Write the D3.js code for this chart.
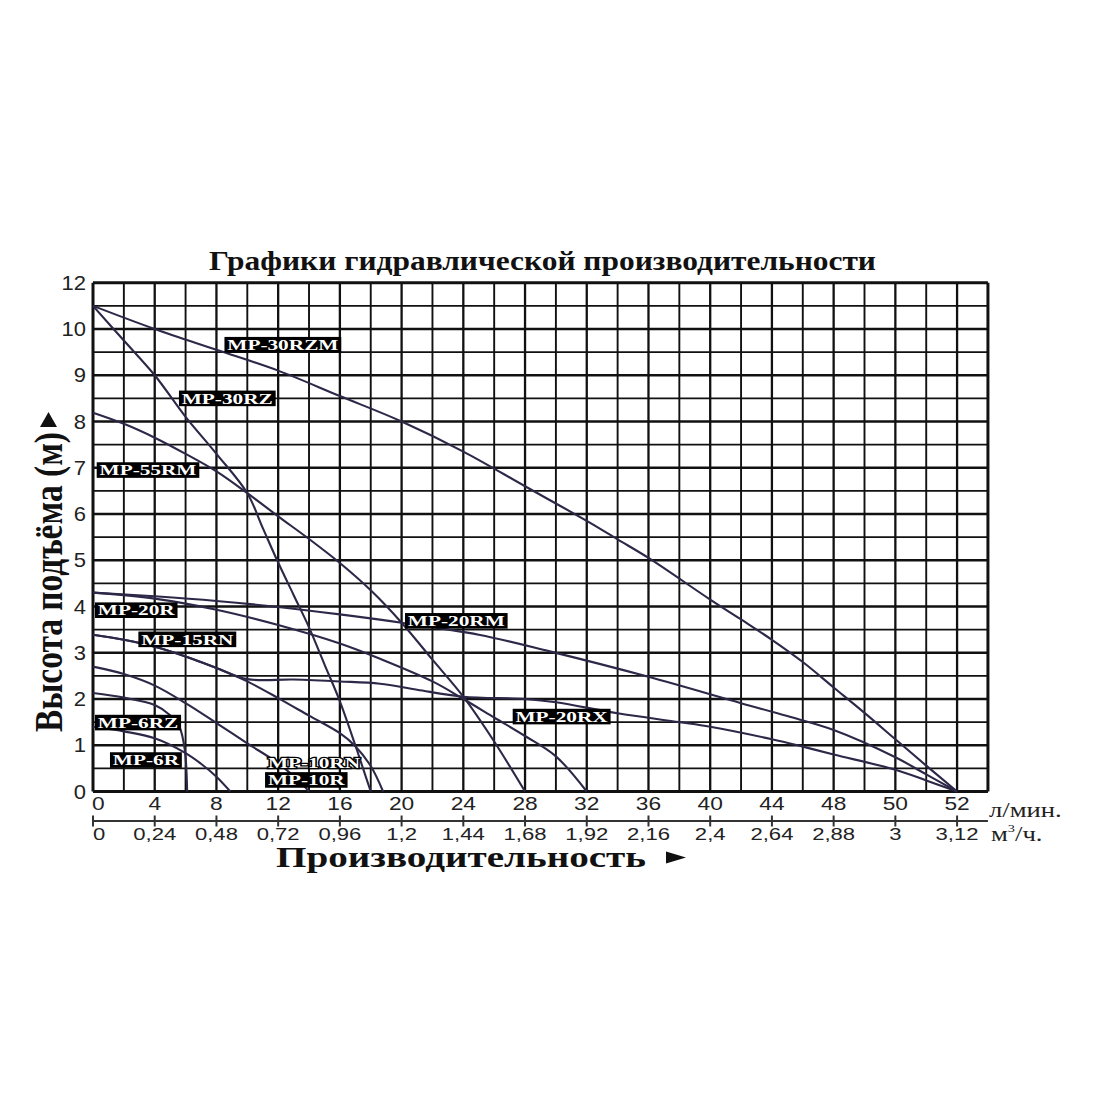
<!DOCTYPE html>
<html><head><meta charset="utf-8">
<script src="https://cdn.jsdelivr.net/npm/d3@7"></script>
<style>body{margin:0;background:#fff}svg{display:block}</style>
</head><body>
<svg id="chart" width="1100" height="1100"></svg>
<script>
// ---------- DATA ----------
const titleText = "Графики гидравлической производительности";
const yTitleText = "Высота подъёма (м)";
const xTitleText = "Производительность";

const flowTicks = [0,4,8,12,16,20,24,28,32,36,40,44,48,50,52];
const m3hTickLabels = ["0","0,24","0,48","0,72","0,96","1,2","1,44","1,68","1,92","2,16","2,4","2,64","2,88","3","3,12"];
const headTicks = [0,1,2,3,4,5,6,7,8,9,10,12];

// flow in l/min, head in m (as read against the printed axes)
const mp30rzmQ = [0,4,8,12,16,20,24,28,32,34,36,40,42,44,46,48,49,50,51,52];
const mp30rzmH = [11,10,9.55,9.1,8.55,8.0,7.35,6.6,5.85,5.45,5.05,4.15,3.72,3.28,2.8,2.25,1.7,1.13,0.56,0];

const mp30rzQ = [0,2,4,6,8,10,11,12,13,14,15,16,17,17.5,18];
const mp30rzH = [11,9.75,9.0,8.1,7.3,6.45,5.7,4.95,4.25,3.55,2.75,1.95,1.0,0.5,0];

const mp55rmQ = [0,2,4,6,8,10,12,14,16,18,20,22,24,26,28];
const mp55rmH = [8.19,7.95,7.65,7.3,6.92,6.45,5.95,5.46,4.94,4.35,3.65,2.85,2.05,1.08,0];

const mp20rmQ = [0,4,8,12,16,20,25,29.6,36,42,45,48,50,51,52];
const mp20rmH = [4.3,4.22,4.12,3.99,3.83,3.65,3.39,3.03,2.48,1.91,1.63,1.33,0.74,0.37,0];

const mp20rQ = [0,4,8,12,16,18.6,22,24,26,28,30,32];
const mp20rH = [4.3,4.17,3.93,3.6,3.2,2.87,2.38,2.0,1.6,1.2,0.76,0];

const mp15rnQ = [0,2,4,6,8,10,12,14,16,17,18,18.8];
const mp15rnH = [3.39,3.28,3.13,2.92,2.67,2.38,2.02,1.64,1.26,0.98,0.55,0];

const mp20rxQ = [0,2,4,6,8,10,13,16,18.6,21,24,28,30,34,38,40,44,46,48,50,51,52];
const mp20rxH = [3.39,3.28,3.13,2.92,2.67,2.43,2.42,2.38,2.33,2.2,2.05,2.0,1.93,1.69,1.5,1.4,1.13,0.97,0.8,0.47,0.24,0];

const mp10rQ = [0,2,4,6,8,10,12,13.5,14];
const mp10rH = [2.7,2.54,2.29,1.91,1.48,1.04,0.61,0.18,0];

const mp6rzQ = [0,2,4,5,5.6,5.95,6.1];
const mp6rzH = [2.13,2.03,1.87,1.65,1.4,0.9,0];

const mp6rQ = [0,2,4,6,7,8,8.9];
const mp6rH = [1.4,1.3,1.15,0.83,0.6,0.32,0];

const seriesNames = ["MP-30RZM","MP-30RZ","MP-55RM","MP-20RM","MP-20R","MP-15RN","MP-20RX","MP-10R","MP-6RZ","MP-6R"];
const seriesQ = [mp30rzmQ,mp30rzQ,mp55rmQ,mp20rmQ,mp20rQ,mp15rnQ,mp20rxQ,mp10rQ,mp6rzQ,mp6rQ];
const seriesH = [mp30rzmH,mp30rzH,mp55rmH,mp20rmH,mp20rH,mp15rnH,mp20rxH,mp10rH,mp6rzH,mp6rH];

// curve labels: text and anchor (left edge flow, centre head)
const labelTexts = ["MP-30RZM","MP-30RZ","MP-55RM","MP-20R","MP-15RN","MP-20RM","MP-20RX","MP-6RZ","MP-6R","MP-10RN","MP-10R"];
const labelQ = [8.52,5.57,0.24,0.13,2.94,20.22,27.2,0.13,1.10,11.15,11.15];
const labelH = [9.66,8.5,6.95,3.92,3.29,3.69,1.62,1.49,0.68,0.61,0.25];
const labelBoxed = [true,true,true,true,true,true,true,true,true,false,true];

// ---------- LAYOUT ----------
const X0 = 93, CELL = 30.86, NCOL = 29;
const Y0 = 791.5, UNIT = 46.25, NROW = 22;
const XR = X0 + NCOL*CELL, YT = Y0 - NROW*UNIT/2;

const x = d3.scaleLinear().domain([0,48,52]).range([X0, X0+24*CELL, X0+28*CELL]);
const y = d3.scaleLinear().domain([0,10,12]).range([Y0, Y0-10*UNIT, Y0-11*UNIT]);

const svg = d3.select("#chart");
const serif = "'Liberation Serif','Times New Roman',serif";
const sans = "'Liberation Sans',Arial,sans-serif";
const ink = "#111";

// grid
const grid = svg.append("g");
grid.selectAll("line.v").data(d3.range(NCOL+1)).join("line")
  .attr("x1", i => X0 + i*CELL).attr("x2", i => X0 + i*CELL)
  .attr("y1", YT).attr("y2", Y0)
  .attr("stroke", ink)
  .attr("stroke-width", i => (i===0||i===NCOL) ? 3 : (i%2===0 ? 2.3 : 1.9));
grid.selectAll("line.h").data(d3.range(NROW+1)).join("line")
  .attr("y1", j => Y0 - j*UNIT/2).attr("y2", j => Y0 - j*UNIT/2)
  .attr("x1", X0).attr("x2", XR)
  .attr("stroke", ink)
  .attr("stroke-width", j => (j===0||j===NROW) ? 3 : (j%2===0 ? 2.6 : 1.9));

// curves
const line = d3.line().x(d => x(d[0])).y(d => y(d[1])).curve(d3.curveCatmullRom.alpha(0.5));
svg.append("g").selectAll("path").data(seriesNames).join("path")
  .attr("d", (n,i) => line(seriesQ[i].map((q,k) => [q, seriesH[i][k]])))
  .attr("fill","none").attr("stroke","#2e2848").attr("stroke-width",2.1)
  .attr("stroke-linejoin","round");

// curve labels
labelTexts.forEach((txt,i) => {
  const g = svg.append("g").attr("transform", `translate(${x(labelQ[i])},${y(labelH[i])})`);
  const inner = g.append("g").attr("transform","scale(1.42,1)");
  const t = inner.append("text").attr("x",2).attr("y",5.2)
    .attr("font-family", serif).attr("font-weight","bold").attr("font-size",15)
    .text(txt);
  const len = t.node().getComputedTextLength();
  if (labelBoxed[i]) {
    inner.insert("rect","text").attr("x",0).attr("y",-7.8).attr("width",len+4).attr("height",15.6).attr("fill","#000");
    t.attr("fill","#fff");
  } else {
    t.attr("fill","#fff").attr("stroke","#000").attr("stroke-width",2.4).attr("paint-order","stroke");
  }
});

// title
svg.append("text").attr("x",209).attr("y",270)
  .attr("font-family",serif).attr("font-weight","bold").attr("font-size",28)
  .attr("textLength",667).attr("lengthAdjust","spacingAndGlyphs")
  .attr("fill",ink).text(titleText);

// y ticks
svg.append("g").selectAll("text").data(headTicks).join("text")
  .attr("transform", d => `translate(86,${y(d)}) scale(1.1,1)`)
  .attr("text-anchor","end").attr("dy","0.36em")
  .attr("font-family",sans).attr("font-size",20).attr("fill","#222")
  .text(d => d);

// x ticks (l/min)
svg.append("g").selectAll("text").data(flowTicks).join("text")
  .attr("transform", (d,i) => `translate(${i===0 ? X0-1 : x(d)},809.5) scale(1.3,1)`)
  .attr("text-anchor", (d,i) => i===0 ? "start" : "middle")
  .attr("font-family",sans).attr("font-size",17.5).attr("fill","#222")
  .text(d => d);

// second axis (m3/h)
const ax2 = svg.append("g");
ax2.append("line").attr("x1",X0).attr("x2",XR).attr("y1",821).attr("y2",821)
  .attr("stroke","#333").attr("stroke-width",2);
ax2.selectAll("line.t").data(flowTicks).join("line")
  .attr("x1", d => x(d)).attr("x2", d => x(d)).attr("y1",815.5).attr("y2",826.5)
  .attr("stroke","#333").attr("stroke-width",2);
ax2.selectAll("text").data(flowTicks).join("text")
  .attr("transform", (d,i) => `translate(${i===0 ? X0 : x(d)},840) scale(1.3,1)`)
  .attr("text-anchor", (d,i) => i===0 ? "start" : "middle")
  .attr("font-family",sans).attr("font-size",17).attr("fill","#222")
  .text((d,i) => m3hTickLabels[i]);

// unit labels
svg.append("text").attr("transform","translate(989,817) scale(1.3,1)")
  .attr("font-family",serif).attr("font-size",20.5).attr("fill","#222").text("л/мин.");
const u2 = svg.append("text").attr("transform","translate(991,841) scale(1.3,1)")
  .attr("font-family",serif).attr("font-size",20.5).attr("fill","#222");
u2.append("tspan").text("м");
u2.append("tspan").attr("font-size",11).attr("dy",-9).text("3");
u2.append("tspan").attr("dy",9).text("/ч.");

// x title
svg.append("text").attr("x",276).attr("y",867)
  .attr("font-family",serif).attr("font-weight","bold").attr("font-size",28.5)
  .attr("textLength",370).attr("lengthAdjust","spacingAndGlyphs")
  .attr("fill",ink).text(xTitleText);
svg.append("path").attr("d","M666,851.5 L686,857.5 L666,863.5 Z").attr("fill",ink);

// y title
svg.append("text").attr("transform","translate(62,582) scale(1.35,1) rotate(-90)")
  .attr("text-anchor","middle")
  .attr("font-family",serif).attr("font-weight","bold").attr("font-size",30)
  .attr("textLength",300).attr("lengthAdjust","spacingAndGlyphs")
  .attr("fill",ink).text(yTitleText);
svg.append("path").attr("d","M48.5,412 L57,427 L40,427 Z").attr("fill",ink);
</script>
</body></html>
